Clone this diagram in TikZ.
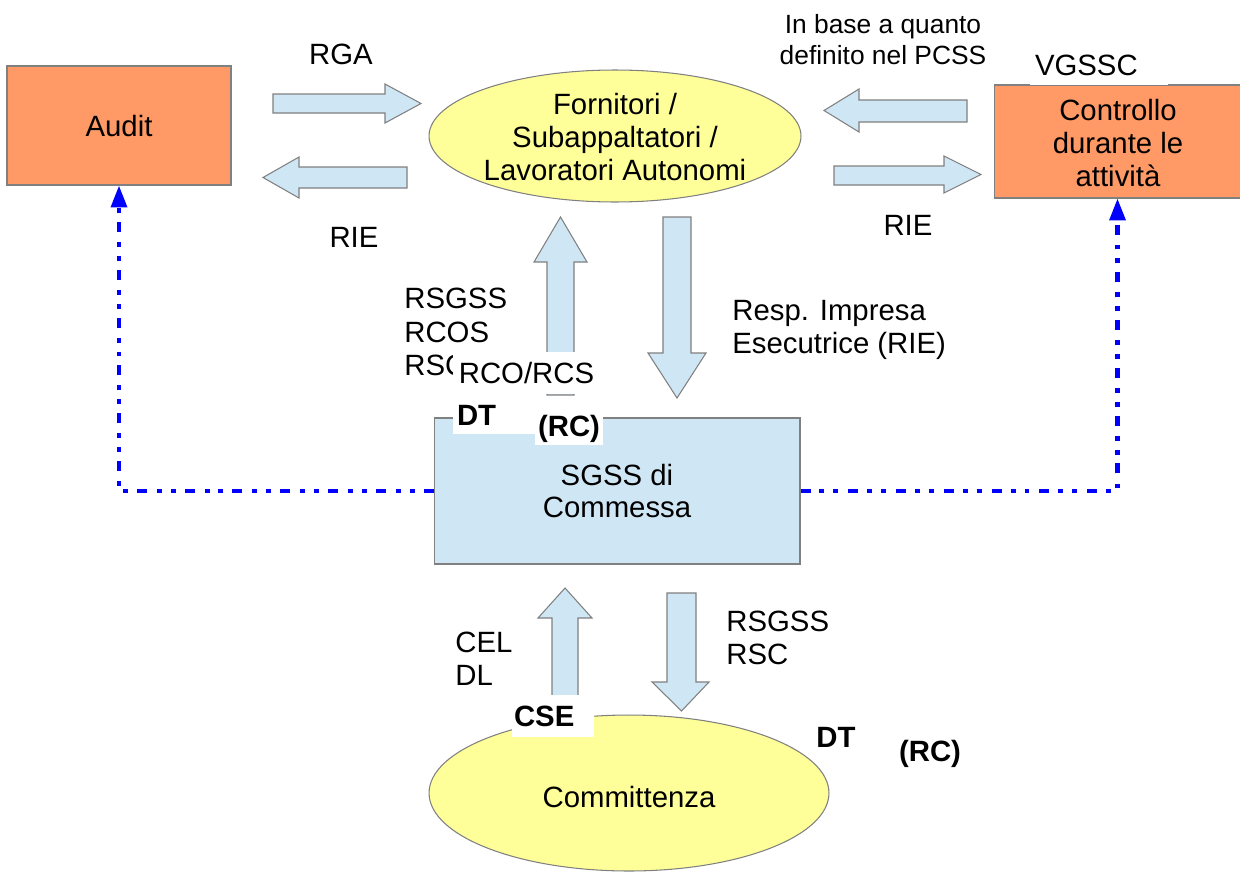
\documentclass[tikz,border=0pt]{standalone}
\usepackage{fontspec}
\setmainfont{Liberation Sans}
\usetikzlibrary{shapes.geometric,arrows.meta}
\definecolor{orng}{HTML}{FF9966}
\definecolor{lblue}{HTML}{CFE7F5}
\definecolor{yel}{HTML}{FFFF99}
\definecolor{bord}{HTML}{808080}
\definecolor{dblue}{HTML}{0000FF}
\tikzset{
  txt/.style={font=\fontsize{16.7}{18.6}\selectfont, inner sep=0pt},
  smalltxt/.style={font=\fontsize{15}{17.6}\selectfont, inner sep=0pt},
  boldtxt/.style={font=\fontsize{16.7}{18.6}\selectfont\bfseries},
  orangebox/.style={draw=bord, fill=orng, line width=0.6pt, rectangle, inner sep=0pt},
  bluebox/.style={draw=bord, fill=lblue, line width=0.6pt, rectangle, inner sep=0pt},
  yellell/.style={draw=bord, fill=yel, line width=0.6pt, ellipse, inner sep=0pt},
  barrow/.style={draw=bord, fill=lblue, line width=0.6pt, line join=miter},
  whitelab/.style={fill=white, inner ysep=0pt},
  dotline/.style={draw=dblue, line width=2.3pt,
    dash pattern=on 5.7pt off 5.1pt on 2.8pt off 5.1pt on 2.8pt off 5.7pt,
    -{Triangle[length=12.5pt,width=9pt]}}
}
\begin{document}
\begin{tikzpicture}[x=0.02cm,y=-0.02cm]
\useasboundingbox[fill=white] (0,0) rectangle (1240,872);

% main shapes
\node[orangebox, minimum width=4.48cm, minimum height=2.38cm] (audit) at (119,125.5) {};
\node[txt] (audittxt) at (119,126) {Audit};

\node[orangebox, minimum width=4.94cm, minimum height=2.26cm] (ctrl) at (1117.5,141.5) {};
\node[txt, align=center] (ctrltxt) at (1118,143) {Controllo\\durante le\\attività};

\node[yellell, minimum width=7.44cm, minimum height=2.64cm] (forn) at (615,136) {};
\node[txt, align=center] (forntxt) at (615,137) {Fornitori /\\Subappaltatori /\\Lavoratori Autonomi};

\node[bluebox, minimum width=7.32cm, minimum height=2.92cm] (sgss) at (617,491) {};
\node[txt, align=center] (sgsstxt) at (617,491) {SGSS di\\Commessa};

\node[yellell, minimum width=8cm, minimum height=3.12cm] (comm) at (629,793) {};
\node[txt] (commtxt) at (629,797) {Committenza};

% block arrows
\draw[barrow] (273,94) -- (385,94) -- (385,84) -- (421,103.5) -- (385,123) -- (385,113) -- (273,113) -- cycle;
\draw[barrow] (407,167) -- (299,167) -- (299,157) -- (263,177.5) -- (299,198) -- (299,188) -- (407,188) -- cycle;
\draw[barrow] (967,100) -- (859,100) -- (859,89) -- (824,110.5) -- (859,132) -- (859,122) -- (967,122) -- cycle;
\draw[barrow] (834,166) -- (944,166) -- (944,156) -- (981,174.5) -- (944,193) -- (944,185) -- (834,185) -- cycle;
\draw[barrow] (547,395) -- (547,262) -- (534,262) -- (560.5,217) -- (587,262) -- (574,262) -- (574,395) -- cycle;
\draw[barrow] (663,217) -- (691,217) -- (691,353) -- (706,353) -- (677,398) -- (648,353) -- (663,353) -- cycle;
\draw[barrow] (552,697) -- (552,618) -- (538,618) -- (565,588) -- (592,618) -- (578,618) -- (578,697) -- cycle;
\draw[barrow] (667,593) -- (696,593) -- (696,682) -- (709,682) -- (681.5,711) -- (652,682) -- (667,682) -- cycle;

% dotted connectors
\draw[dotline] (sgss.west) -| (audit.south);
\draw[dotline] (sgss.east) -| (ctrl.south);

% labels
\node[txt] (rga) at (341,54) {RGA};
\node[txt] (rie1) at (354,237) {RIE};
\node[smalltxt, align=center] (inbase) at (883,40) {In base a quanto\\definito nel PCSS};
\node[txt, whitelab, text width=2.56cm, align=left, inner xsep=0.1cm, minimum height=0.8cm] (vgssc) at (1099,65) {VGSSC};
\node[txt] (rie2) at (908,225) {RIE};
\node[txt, align=left, anchor=west, font=\fontsize{16.7}{19.2}\selectfont] (rsgss1) at (404,332) {RSGSS\\RCOS\\RSC};
\node[txt, whitelab, minimum width=2.94cm, minimum height=0.84cm] (rco) at (526.5,373) {RCO/RCS};
\node[txt, align=left, anchor=west] (resp) at (732,330) {Resp. Impresa\\Esecutrice (RIE)};
\node[boldtxt, whitelab, text width=1.48cm, align=left, inner xsep=0.08cm, minimum height=0.76cm] (dt1) at (494,415) {DT};
\node[boldtxt, whitelab, minimum width=1.36cm, minimum height=0.64cm, inner xsep=0pt] (rc1) at (569,429) {(RC)};
\node[txt, align=left, anchor=west] (cel) at (455,658.5) {CEL\\DL};
\node[txt, align=left, anchor=west] (rsgss2) at (726,638) {RSGSS\\RSC};
\node[boldtxt, whitelab, text width=1.56cm, align=left, inner xsep=0.04cm, minimum height=0.84cm] (cse) at (553,716) {CSE};
\node[boldtxt, inner sep=0pt] (dt2) at (836,737) {DT};
\node[boldtxt, inner sep=0pt] (rc2) at (930,754) {(RC)};
\end{tikzpicture}
\end{document}
